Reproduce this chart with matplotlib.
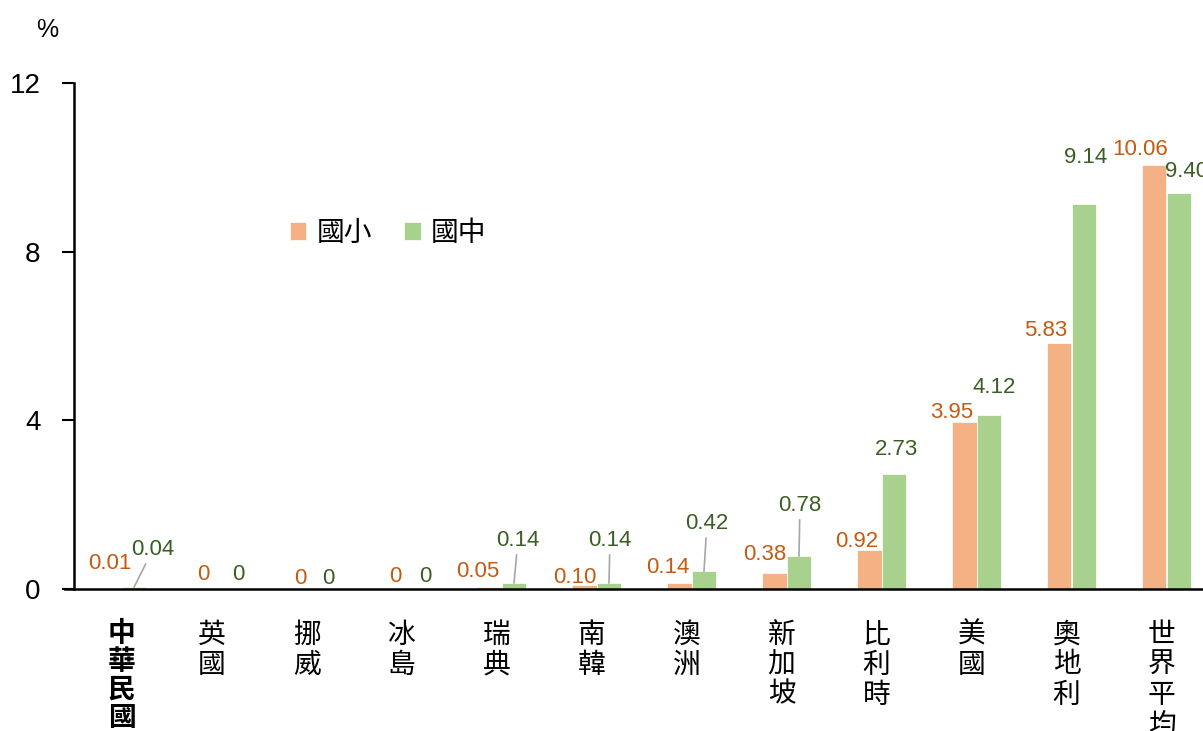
import numpy as np
import matplotlib.pyplot as plt
import matplotlib.transforms as mtransforms

plt.rcParams['font.family'] = ['Liberation Sans', 'Noto Sans CJK TC', 'DejaVu Sans']

# 資料
countries = ['中華民國', '英國', '挪威', '冰島', '瑞典', '南韓', '澳洲', '新加坡', '比利時', '美國', '奧地利', '世界平均']
elem = [0.01, 0, 0, 0, 0.05, 0.10, 0.14, 0.38, 0.92, 3.95, 5.83, 10.06]    # 國小
junior = [0.04, 0, 0, 0, 0.14, 0.14, 0.42, 0.78, 2.73, 4.12, 9.14, 9.40]   # 國中
elem_text = ['0.01', '0', '0', '0', '0.05', '0.10', '0.14', '0.38', '0.92', '3.95', '5.83', '10.06']
junior_text = ['0.04', '0', '0', '0', '0.14', '0.14', '0.42', '0.78', '2.73', '4.12', '9.14', '9.40']
yticks = [0, 4, 8, 12]

# 標籤位移 (pixels, 相對於柱頂)
elem_off = [(1, 25), (-1, 14), (1, 11), (1, 12), (-11, 15), (-9, 7), (-11, 16), (-9, 18), (-12, 9), (-12, 10), (-13, 13), (-14, 15)]
junior_off = [(19, 38), (9, 14), (4, 11), (6, 12), (4, 43), (1, 43), (3, 48), (1, 51), (3, 24), (5, 28), (2, 46), (8, 21)]
leader = [True, False, False, False, True, True, True, True, False, False, False, False]

c_elem = '#F4B183'
c_junior = '#A9D18E'
t_elem = '#C55A11'
t_junior = '#3B5E24'

W, H = 1203, 731
fig = plt.figure(figsize=(W / 100, H / 100), dpi=100)
ax = fig.add_axes([74 / W, (H - 589) / H, 1140 / W, (589 - 83) / H])

x = np.arange(len(countries))
w = 0.263
ax.bar(x - w / 2, elem, w, color=c_elem, edgecolor='white', linewidth=0.5, label='國小')
ax.bar(x + w / 2, junior, w, color=c_junior, edgecolor='white', linewidth=0.5, label='國中')

for i in range(len(countries)):
    ax.annotate(elem_text[i], (x[i] - w / 2, elem[i]), xytext=elem_off[i], textcoords='offset pixels',
                ha='center', va='center', fontsize=16, color=t_elem)
    arrow = dict(arrowstyle='-', color='#A6A6A6', lw=1.2, shrinkA=1, shrinkB=0) if leader[i] else None
    ax.annotate(junior_text[i], (x[i] + w / 2, junior[i]), xytext=junior_off[i], textcoords='offset pixels',
                ha='center', va='center', fontsize=16, color=t_junior, arrowprops=arrow)

ax.set_xlim(-0.5, len(countries) - 0.5)
ax.set_ylim(0, 12)
ax.set_yticks(yticks)
ax.set_yticklabels([str(v) for v in yticks], fontsize=20)
ax.tick_params(axis='y', direction='out', length=9, width=1.5, pad=15)
ax.set_xticks(x)
ax.set_xticklabels(['\n'.join(c) for c in countries], fontsize=20, linespacing=1.0,
                   family=['Noto Sans CJK TC', 'DejaVu Sans'], va='top')
ax.tick_params(axis='x', length=0, pad=22)
labels = ax.get_xticklabels()
labels[0].set_fontweight('bold')
shift = mtransforms.ScaledTranslation(-5 / 100, 0, fig.dpi_scale_trans)
for lab in labels[1:]:
    lab.set_transform(lab.get_transform() + shift)

for s in ['top', 'right']:
    ax.spines[s].set_visible(False)
for s in ['left', 'bottom']:
    ax.spines[s].set_linewidth(1.8)
ax.spines['bottom'].set_bounds(-0.5 - 9 / 95, len(countries) - 0.5)

leg = ax.legend(loc='center left', bbox_to_anchor=(287 / W, 1 - 233 / H), bbox_transform=fig.transFigure,
                ncol=2, frameon=False, handlelength=0.6, handleheight=0.6, handletextpad=0.36,
                columnspacing=1.15, borderaxespad=0, borderpad=0.1,
                prop={'family': ['Noto Sans CJK TC'], 'size': 20})

fig.text(47 / W, 1 - 30 / H, '%', ha='center', va='center', fontsize=18)

fig.savefig('out.png', dpi=100)
